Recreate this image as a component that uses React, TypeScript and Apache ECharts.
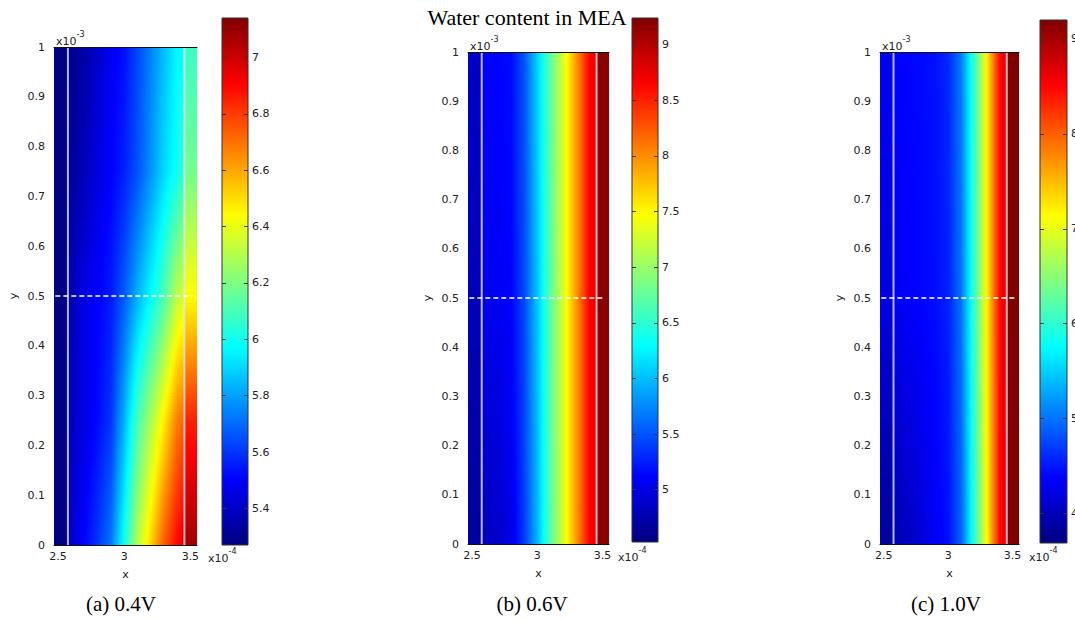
import React, { useEffect, useRef } from "react";
import * as echarts from "echarts";

// ---------- shared axis data ----------
const X_MIN = 2.47;
const X_MAX = 3.55;
const X_TICKS = [2.5, 3, 3.5];
const Y_MIN = 0;
const Y_MAX = 1;
const Y_STEP = 0.1;
const LAYER_BOUNDARIES = [2.575, 3.455];
const CUT_Y = 0.5;
const CUT_X = [2.48, 3.52];
// interior sample columns (between the two layer boundaries)
const X_COLS = [2.575, 2.6, 2.7, 2.8, 2.9, 3.0, 3.1, 3.2, 3.3, 3.4, 3.455];

const TITLE = "Water content in MEA";

// ---------- (a) 0.4V ----------
const A_CAPTION = "(a) 0.4V";
const A_RANGE = [5.27, 7.14];
const A_TICKS = [5.4, 5.6, 5.8, 6, 6.2, 6.4, 6.6, 6.8, 7];
const A_ROW_Y = [0, 0.25, 0.5, 0.75, 1];
const A_LEFT = [5.27, 5.27, 5.27, 5.27, 5.27];
const A_RIGHT = [7.08, 6.85, 6.44, 6.18, 6.08];
const A_ROW_0 = [5.39, 5.41, 5.51, 5.6, 5.72, 6.0, 6.3, 6.52, 6.74, 6.9, 6.96];
const A_ROW_1 = [5.37, 5.38, 5.46, 5.52, 5.6, 5.83, 6.1, 6.28, 6.47, 6.68, 6.72];
const A_ROW_2 = [5.34, 5.37, 5.46, 5.5, 5.55, 5.67, 5.83, 5.97, 6.11, 6.32, 6.37];
const A_ROW_3 = [5.31, 5.32, 5.38, 5.45, 5.5, 5.56, 5.65, 5.77, 5.9, 6.0, 6.06];
const A_ROW_4 = [5.29, 5.3, 5.34, 5.41, 5.48, 5.53, 5.63, 5.74, 5.85, 5.96, 6.0];

// ---------- (b) 0.6V ----------
const B_CAPTION = "(b) 0.6V";
const B_RANGE = [4.53, 9.24];
const B_TICKS = [5, 5.5, 6, 6.5, 7, 7.5, 8, 8.5, 9];
const B_ROW_Y = [0, 0.5, 1];
const B_LEFT = [4.65, 4.8, 4.85];
const B_RIGHT = [9.2, 9.2, 9.2];
const B_ROW_0 = [4.8, 4.82, 4.86, 5.0, 5.38, 5.95, 6.7, 7.3, 7.95, 8.65, 8.75];
const B_ROW_1 = [4.98, 5.02, 5.07, 5.12, 5.45, 6.02, 6.7, 7.3, 7.95, 8.65, 8.75];
const B_ROW_2 = [5.1, 5.12, 5.13, 5.16, 5.5, 6.08, 6.72, 7.3, 7.95, 8.65, 8.75];

// ---------- (c) 1.0V ----------
const C_CAPTION = "(c) 1.0V";
const C_RANGE = [3.69, 9.2];
const C_TICKS = [4, 5, 6, 7, 8, 9];
const C_ROW_Y = [0, 0.5, 1];
const C_LEFT = [3.83, 4.2, 4.3];
const C_RIGHT = [9.2, 9.2, 9.2];
const C_ROW_0 = [3.95, 3.97, 4.05, 4.17, 4.33, 4.45, 4.9, 5.95, 7.15, 8.45, 8.72];
const C_ROW_1 = [4.3, 4.32, 4.36, 4.4, 4.44, 4.55, 5.0, 6.0, 7.2, 8.45, 8.72];
const C_ROW_2 = [4.38, 4.38, 4.4, 4.42, 4.46, 4.59, 5.05, 6.0, 7.2, 8.45, 8.72];

const PANELS = [
  { caption: A_CAPTION, range: A_RANGE, ticks: A_TICKS, rowY: A_ROW_Y, left: A_LEFT, right: A_RIGHT, rows: [A_ROW_0, A_ROW_1, A_ROW_2, A_ROW_3, A_ROW_4] },
  { caption: B_CAPTION, range: B_RANGE, ticks: B_TICKS, rowY: B_ROW_Y, left: B_LEFT, right: B_RIGHT, rows: [B_ROW_0, B_ROW_1, B_ROW_2] },
  { caption: C_CAPTION, range: C_RANGE, ticks: C_TICKS, rowY: C_ROW_Y, left: C_LEFT, right: C_RIGHT, rows: [C_ROW_0, C_ROW_1, C_ROW_2] },
];

// ---------- layout (pixels) ----------
const LAYOUT = [
  { plot: { left: 54, top: 47, width: 143, height: 498 }, bar: { left: 222, top: 18, width: 26, height: 527 }, caption: [121, 604], expGap: 11 },
  { plot: { left: 468, top: 52, width: 141, height: 492 }, bar: { left: 632, top: 18, width: 26, height: 524 }, caption: [532, 604], expGap: 9 },
  { plot: { left: 880, top: 52, width: 139, height: 492 }, bar: { left: 1040, top: 20, width: 27, height: 523 }, caption: [946, 604], expGap: 10 },
];
const TITLE_POS = [527, 17];

const LABEL_FONT = '"DejaVu Sans", Verdana, sans-serif';
const SERIF = '"Liberation Serif", "Times New Roman", serif';
const TEXT_COLOR = "#222";

function jet(t: number): string {
  const c = Math.max(0, Math.min(1, t));
  const f = (v: number) => Math.round(255 * Math.max(0, Math.min(1, v)));
  const r = f(1.5 - Math.abs(4 * c - 3));
  const g = f(1.5 - Math.abs(4 * c - 2));
  const b = f(1.5 - Math.abs(4 * c - 1));
  return `rgb(${r},${g},${b})`;
}

function profile(left: number, interior: number[], right: number): [number, number][] {
  const pts: [number, number][] = [[X_MIN, left], [X_COLS[0], left]];
  X_COLS.forEach((x, i) => pts.push([x, interior[i]]));
  pts.push([X_COLS[X_COLS.length - 1], right], [X_MAX, right]);
  return pts;
}

const EXP_RICH = {
  b: { fontSize: 11, fontFamily: LABEL_FONT, color: TEXT_COLOR, verticalAlign: "bottom", lineHeight: 17 },
  s: { fontSize: 8, fontFamily: LABEL_FONT, color: TEXT_COLOR, verticalAlign: "top", lineHeight: 17 },
};

function buildOption() {
  const grid: any[] = [];
  const xAxis: any[] = [];
  const yAxis: any[] = [];
  const series: any[] = [];
  const graphic: any[] = [];
  const labelStyle = { fontFamily: LABEL_FONT, fontSize: 11, color: TEXT_COLOR };

  PANELS.forEach((p, pi) => {
    const L = LAYOUT[pi];
    const gPlot = grid.length;
    grid.push({ ...L.plot, show: false, containLabel: false, outerBoundsMode: "none" });
    const gBar = grid.length;
    grid.push({ ...L.bar, show: false, containLabel: false, outerBoundsMode: "none" });

    const xMain = xAxis.length;
    xAxis.push({
      type: "value", gridIndex: gPlot, position: "bottom", min: X_MIN, max: X_MAX, z: 10,
      axisLine: { show: true, onZero: false, lineStyle: { color: "#111", width: 1 } },
      axisTick: { show: false }, splitLine: { show: false },
      axisLabel: { customValues: X_TICKS, margin: 6, ...labelStyle },
      name: "x", nameLocation: "middle", nameGap: 24, nameTextStyle: { ...labelStyle },
    });
    xAxis.push({
      type: "value", gridIndex: gPlot, position: "top", min: X_MIN, max: X_MAX, z: 10,
      axisLine: { show: true, onZero: false, lineStyle: { color: "#111", width: 1 } },
      axisTick: { show: false }, axisLabel: { show: false }, splitLine: { show: false },
    });
    xAxis.push({
      type: "value", gridIndex: gPlot, position: "bottom", offset: 0, min: X_MIN, max: X_MAX,
      axisLine: { show: false, onZero: false }, axisTick: { show: false }, axisLabel: { show: false }, splitLine: { show: false },
      name: "{b|x10}{s|-4}", nameLocation: "end", nameGap: L.expGap,
      nameTextStyle: { align: "left", verticalAlign: "top", padding: [2, 0, 0, 0], rich: EXP_RICH },
    });

    const yMain = yAxis.length;
    yAxis.push({
      type: "value", gridIndex: gPlot, position: "left", min: Y_MIN, max: Y_MAX, interval: Y_STEP,
      axisLine: { show: false, onZero: false }, axisTick: { show: false }, splitLine: { show: false },
      axisLabel: { margin: 9, ...labelStyle },
      name: "y", nameLocation: "middle", nameRotate: 90, nameGap: 35, nameTextStyle: { ...labelStyle },
    });
    yAxis.push({
      type: "value", gridIndex: gPlot, position: "left", offset: 0, min: Y_MIN, max: Y_MAX,
      axisLine: { show: false, onZero: false }, axisTick: { show: false }, axisLabel: { show: false }, splitLine: { show: false },
      name: "{b|x10}{s|-3}", nameLocation: "end", nameGap: 0,
      nameTextStyle: { align: "left", verticalAlign: "bottom", padding: [0, 0, 0, 2], rich: EXP_RICH },
    });

    const xBar = xAxis.length;
    xAxis.push({ type: "value", gridIndex: gBar, min: 0, max: 1, show: false });
    const yBar = yAxis.length;
    yAxis.push({
      type: "value", gridIndex: gBar, position: "right", min: p.range[0], max: p.range[1], z: 10,
      axisLine: { show: false, onZero: false },
      axisTick: { show: true, inside: true, length: 4, customValues: p.ticks, lineStyle: { color: "#333" } },
      axisLabel: { customValues: p.ticks, margin: 4, ...labelStyle },
      splitLine: { show: false },
    });
    yAxis.push({
      type: "value", gridIndex: gBar, position: "left", min: p.range[0], max: p.range[1], z: 10,
      axisLine: { show: false, onZero: false },
      axisTick: { show: true, inside: true, length: 4, customValues: p.ticks, lineStyle: { color: "#333" } },
      axisLabel: { show: false }, splitLine: { show: false },
    });

    const cmin = p.range[0];
    const cspan = p.range[1] - p.range[0];
    const N = 40;

    series.push({
      type: "custom", xAxisIndex: xMain, yAxisIndex: yMain, clip: true, silent: true, z: 1,
      data: p.rowY.map((y, i) => [X_MIN, y, i]),
      encode: { x: 0, y: 1 },
      renderItem: (params: any, api: any) => {
        const i = params.dataIndex;
        if (i >= p.rowY.length - 1) return { type: "group", children: [] };
        const y0 = p.rowY[i];
        const y1 = p.rowY[i + 1];
        const xL = api.coord([X_MIN, y0])[0];
        const xR = api.coord([X_MAX, y0])[0];
        const off = (x: number) => (api.coord([x, y0])[0] - xL) / (xR - xL);
        const children: any[] = [];
        for (let k = 0; k < N; k++) {
          const fa = k / N;
          const fb = (k + 1) / N;
          const fm = (k + 0.5) / N;
          const ya = y0 + (y1 - y0) * fa;
          const yb = y0 + (y1 - y0) * fb;
          const pyA = api.coord([X_MIN, ya])[1];
          const pyB = api.coord([X_MIN, yb])[1];
          const lerp = (a: number, b: number) => a + (b - a) * fm;
          const left = lerp(p.left[i], p.left[i + 1]);
          const right = lerp(p.right[i], p.right[i + 1]);
          const interior = p.rows[i].map((v, j) => lerp(v, p.rows[i + 1][j]));
          const pts = profile(left, interior, right);
          const stops: any[] = [];
          for (let s = 0; s < pts.length - 1; s++) {
            const [xa, va] = pts[s];
            const [xb, vb] = pts[s + 1];
            const S = xb > xa ? 4 : 1;
            for (let q = 0; q <= S; q++) {
              const fr = q / S;
              const x = xa + (xb - xa) * fr;
              const v = va + (vb - va) * fr;
              stops.push({ offset: Math.max(0, Math.min(1, off(x))), color: jet((v - cmin) / cspan) });
            }
          }
          children.push({
            type: "rect",
            shape: { x: xL, y: pyB - 0.6, width: xR - xL, height: pyA - pyB + 1.2 },
            style: { fill: { type: "linear", x: 0, y: 0, x2: 1, y2: 0, colorStops: stops, global: false } },
            silent: true,
          });
        }
        return { type: "group", children };
      },
    });

    LAYER_BOUNDARIES.forEach((b) => {
      series.push({
        type: "line", xAxisIndex: xMain, yAxisIndex: yMain, silent: true, z: 5, symbol: "none",
        data: [[b, Y_MIN], [b, Y_MAX]],
        lineStyle: { color: "rgba(228,228,240,0.8)", width: 2 },
      });
    });
    series.push({
      type: "line", xAxisIndex: xMain, yAxisIndex: yMain, silent: true, z: 5, symbol: "none",
      data: [[CUT_X[0], CUT_Y], [CUT_X[1], CUT_Y]],
      lineStyle: { color: "#ffffff", width: 1.5, type: [5, 3] },
    });

    series.push({
      type: "custom", xAxisIndex: xBar, yAxisIndex: yBar, silent: true, z: 1,
      data: [[0, p.range[0], 1, p.range[1]]],
      encode: { x: [0, 2], y: [1, 3] },
      renderItem: (_params: any, api: any) => {
        const tl = api.coord([0, p.range[1]]);
        const br = api.coord([1, p.range[0]]);
        const stops: any[] = [];
        const M = 32;
        for (let q = 0; q <= M; q++) {
          stops.push({ offset: q / M, color: jet(1 - q / M) });
        }
        return {
          type: "rect",
          shape: { x: tl[0], y: tl[1], width: br[0] - tl[0], height: br[1] - tl[1] },
          style: { fill: { type: "linear", x: 0, y: 0, x2: 0, y2: 1, colorStops: stops, global: false }, stroke: "#333", lineWidth: 1 },
        };
      },
    });

    graphic.push({
      type: "text", x: L.caption[0], y: L.caption[1], silent: true,
      style: { text: p.caption, align: "center", verticalAlign: "middle", font: `21px ${SERIF}`, fill: "#000" },
    });
  });

  graphic.push({
    type: "text", x: TITLE_POS[0], y: TITLE_POS[1], silent: true,
    style: { text: TITLE, align: "center", verticalAlign: "middle", font: `22px ${SERIF}`, fill: "#000" },
  });

  return {
    animation: false,
    backgroundColor: "#ffffff",
    grid, xAxis, yAxis, series, graphic,
  };
}

export default function App() {
  const ref = useRef<HTMLDivElement>(null);
  useEffect(() => {
    if (!ref.current) return;
    const chart = echarts.init(ref.current, undefined, { renderer: "svg" });
    chart.setOption(buildOption() as any);
    return () => chart.dispose();
  }, []);
  return (
    <div
      ref={ref}
      style={{ position: "absolute", left: 0, top: 0, width: 1075, height: 620, background: "#fff" }}
    />
  );
}
